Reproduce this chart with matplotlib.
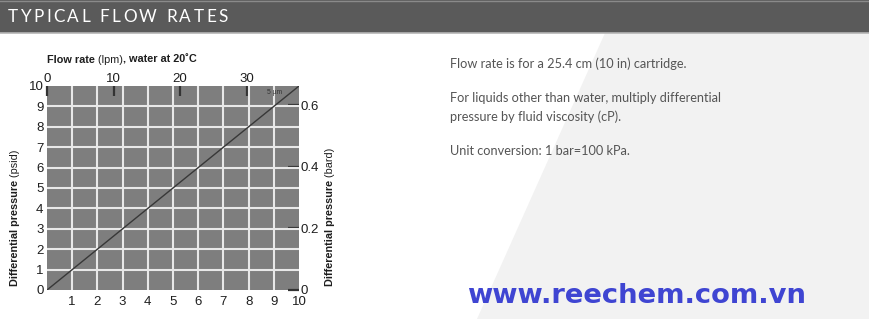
import matplotlib
matplotlib.use("Agg")
import matplotlib.pyplot as plt
from matplotlib.patches import Polygon, Rectangle

# data
gpm = [0, 10]            # bottom axis units
psid = [0, 10]           # differential pressure, psid
lpm_per_gpm = 3.785
bar_per_psid = 0.0662    # as drawn in the picture
top_ticks = [0, 10, 20, 30]
right_ticks = [0, 0.2, 0.4, 0.6]
bottom_ticks = [1, 2, 3, 4, 5, 6, 7, 8, 9, 10]
left_ticks = [0, 1, 2, 3, 4, 5, 6, 7, 8, 9, 10]

header = "TYPICAL FLOW RATES"
notes = [
    "Flow rate is for a 25.4 cm (10 in) cartridge.",
    "For liquids other than water, multiply differential",
    "pressure by fluid viscosity (cP).",
    "Unit conversion: 1 bar=100 kPa.",
]
note_y = [64, 98, 117, 151]
site = "www.reechem.com.vn"

W, H = 870, 319
fig = plt.figure(figsize=(W / 100, H / 100), dpi=100)
fig.patch.set_facecolor("white")

# background decorations in pixel coords
bg = fig.add_axes([0, 0, 1, 1], zorder=0)
bg.set_xlim(0, W)
bg.set_ylim(H, 0)
bg.axis("off")
bg.add_patch(Polygon([(605, 33), (W, 33), (W, H), (477, H)], closed=True,
                     facecolor="#f2f2f2", edgecolor="none"))
bg.add_patch(Rectangle((0, 0), W, 33, facecolor="#5a5a5a", edgecolor="none"))
bg.plot([0, W], [0.5, 0.5], color="#8a8a8a", lw=1)
bg.plot([0, W], [32.5, 32.5], color="#b5b5b5", lw=1.2)

# header with letter spacing
prev = bg.text(8, 17.5, header[0], color="white", fontsize=12.3, family="Lato",
               va="center", ha="left")
for ch in header[1:]:
    prev = bg.annotate(ch, xy=(1, 0), xycoords=prev, xytext=(1.75, 0),
                       textcoords="offset points", color="white", fontsize=12.3,
                       family="Lato", va="bottom", ha="left")

for s, y in zip(notes, note_y):
    bg.text(450, y, s, color="#555555", fontsize=9.2, family="Lato",
            va="center", ha="left")

bg.text(467, 296, site, color="#3f45d2", fontsize=19.7, family="DejaVu Sans",
        fontweight="bold", va="center", ha="left")

# chart
ax = fig.add_axes([47 / W, 29 / H, 252 / W, 204 / H], zorder=2)
ax.set_facecolor("#7e7e7e")
ax.set_xlim(0, 10)
ax.set_ylim(0, 10)
for k in range(1, 10):
    ax.axvline(k, color="#e8e8e8", lw=1.5, zorder=1)
    ax.axhline(k, color="#e8e8e8", lw=1.5, zorder=1)
ax.plot(gpm, psid, color="#383838", lw=1.0, zorder=3)
for sp in ax.spines.values():
    sp.set_visible(False)

font = "Liberation Sans"
ax.set_xticks(bottom_ticks)
ax.set_yticks(left_ticks)
ax.tick_params(axis="x", length=0, pad=4.5, labelsize=9.5,
               labelfontfamily=font, labelcolor="#1e1e1e")
ax.tick_params(axis="y", length=0, pad=2.5, labelsize=9.5,
               labelfontfamily=font, labelcolor="#1e1e1e")

top = ax.secondary_xaxis("top", functions=(lambda x: x * lpm_per_gpm,
                                           lambda x: x / lpm_per_gpm))
top.set_xticks(top_ticks)
top.tick_params(direction="in", length=7, width=1.6, color="#333333", pad=1,
                labelsize=9.5, labelcolor="#1e1e1e", labelfontfamily=font)
top.spines["top"].set_visible(False)

right = ax.secondary_yaxis("right", functions=(lambda y: y * bar_per_psid,
                                               lambda y: y / bar_per_psid))
right.set_yticks(right_ticks)
right.set_yticklabels(["0", "0.2", "0.4", "0.6"])
right.tick_params(direction="in", length=8, width=1.6, color="#333333", pad=1,
                  labelsize=9.5, labelcolor="#1e1e1e", labelfontfamily=font)
right.spines["right"].set_visible(False)

ax.text(9.05, 9.66, "5 µm", fontsize=4.8, family=font, color="#333333",
        ha="center", va="center", zorder=4)

# axis titles with mixed weights
t1 = bg.text(47, 65, "Flow rate", fontsize=7.8, family=font,
             fontweight="bold", color="#1e1e1e", va="bottom", ha="left")
t2 = bg.annotate(" (lpm)", xy=(1, 0), xycoords=t1, fontsize=7.8, family=font,
                 color="#1e1e1e", va="bottom", ha="left")
bg.annotate(", water at 20˚C", xy=(1, 0), xycoords=t2, fontsize=7.8,
            family=font, fontweight="bold", color="#1e1e1e", va="bottom",
            ha="left")

for xpix, unit in [(15, " (psid)"), (330, " (bard)")]:
    a = bg.text(xpix, 286, "Differential pressure", rotation=90, fontsize=7.8,
                family=font, fontweight="bold", color="#1e1e1e", va="bottom",
                ha="center")
    bg.annotate(unit, xy=(0.5, 1), xycoords=a, rotation=90, fontsize=7.8,
                family=font, color="#1e1e1e", va="bottom", ha="center")

fig.savefig("out.png", dpi=100)
